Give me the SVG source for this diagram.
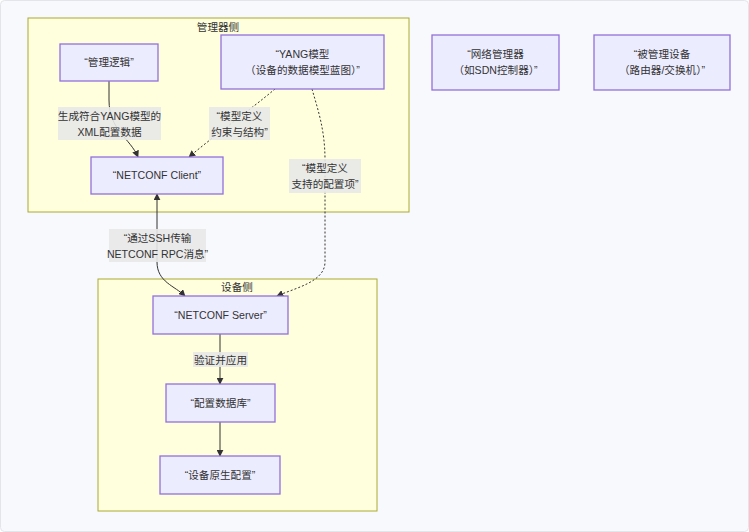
<svg xmlns="http://www.w3.org/2000/svg" width="749" height="532" viewBox="0 0 749 532">
<style>
text{font-family:"Liberation Sans","Noto Sans CJK SC",sans-serif;font-size:10.6px;fill:#333;text-anchor:middle}
.cl{fill:#ffffde;stroke:#aaaa33;stroke-width:1}
.nd{fill:#ececff;stroke:#9370db;stroke-width:1.3}
.lb{fill:#e8e8e8;opacity:0.9}
.e{fill:none;stroke:#333;stroke-width:1}
.d{fill:none;stroke:#333;stroke-width:1;stroke-dasharray:2 2}
</style>
<defs>
<marker id="ah" viewBox="0 0 10 10" refX="9" refY="5" markerWidth="7" markerHeight="7" orient="auto-start-reverse" markerUnits="userSpaceOnUse">
<path d="M0,0 L10,5 L0,10 z" fill="#333"/>
</marker>
</defs>
<rect x="0.5" y="0.5" width="748" height="531" rx="4" fill="#f8f9fc" stroke="#e3e5ea"/>
<g id="cluster-manager">
<rect class="cl" x="28" y="18" width="381" height="194"/>
<text x="218" y="31">管理器侧</text>
</g>
<g id="cluster-device">
<rect class="cl" x="98" y="279" width="279" height="232"/>
<text x="237" y="291">设备侧</text>
</g>
<g id="connectors">
<path class="e" d="M109,81 L109,100 C109,130 130,138 138,157" marker-end="url(#ah)"/>
<path class="d" d="M275,89 C250,110 215,135 189,157" marker-end="url(#ah)"/>
<path class="d" d="M312,89 C318,110 325,130 325,160 L325,262 C325,282 295,288 277,296" marker-end="url(#ah)"/>
<path class="e" d="M157,194 L157,262 C157,282 175,286 185,296" marker-start="url(#ah)" marker-end="url(#ah)"/>
<path class="e" d="M220,334 L220,384" marker-end="url(#ah)"/>
<path class="e" d="M220,422 L220,456" marker-end="url(#ah)"/>
<rect class="lb" x="58" y="107" width="103" height="33"/>
<text x="109.5" y="120">生成符合YANG模型的</text>
<text x="109.5" y="136">XML配置数据</text>
<rect class="lb" x="209" y="107" width="61" height="33"/>
<text x="239.5" y="120">“模型定义</text>
<text x="239.5" y="136">约束与结构”</text>
<rect class="lb" x="289" y="159" width="72" height="34"/>
<text x="325" y="172">“模型定义</text>
<text x="325" y="188">支持的配置项”</text>
<rect class="lb" x="109" y="229" width="97" height="33"/>
<text x="157.5" y="242">“通过SSH传输</text>
<text x="157.5" y="258">NETCONF RPC消息”</text>
<rect class="lb" x="193" y="352" width="55" height="15"/>
<text x="220.5" y="363.5">验证并应用</text>
</g>
<g id="n-logic">
<rect class="nd" x="60" y="44" width="98" height="37"/>
<text x="109" y="66">“管理逻辑”</text>
</g>
<g id="n-yang">
<rect class="nd" x="221" y="35" width="163" height="54"/>
<text x="302.5" y="58">“YANG模型</text>
<text x="302.5" y="74">（设备的数据模型蓝图）”</text>
</g>
<g id="n-client">
<rect class="nd" x="91" y="157" width="132" height="37"/>
<text x="157" y="179">“NETCONF Client”</text>
</g>
<g id="n-manager">
<rect class="nd" x="432" y="35" width="127" height="55"/>
<text x="495.5" y="58">“网络管理器</text>
<text x="495.5" y="74">（如SDN控制器）”</text>
</g>
<g id="n-device">
<rect class="nd" x="594" y="35" width="136" height="55"/>
<text x="662" y="58">“被管理设备</text>
<text x="662" y="74">（路由器/交换机）”</text>
</g>
<g id="n-server">
<rect class="nd" x="153" y="296" width="135" height="38"/>
<text x="220.5" y="319">“NETCONF Server”</text>
</g>
<g id="n-db">
<rect class="nd" x="166" y="384" width="109" height="38"/>
<text x="220.5" y="407">“配置数据库”</text>
</g>
<g id="n-native">
<rect class="nd" x="160" y="456" width="120" height="38"/>
<text x="220" y="479">“设备原生配置”</text>
</g>
</svg>
